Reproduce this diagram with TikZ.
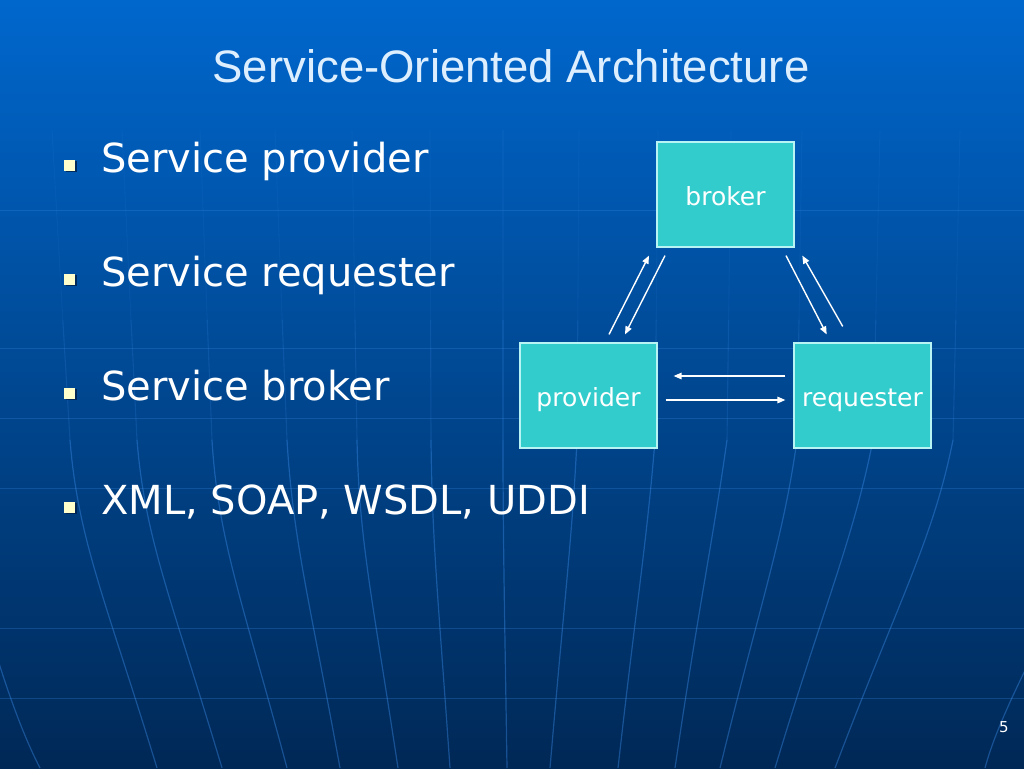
\documentclass[tikz,border=0pt]{standalone}
\usepackage{fontspec}
\setmainfont{DejaVu Sans}
\newfontfamily\titlefont{Liberation Sans}
\usetikzlibrary{arrows.meta,shadows}
\definecolor{bgtop}{HTML}{0067CD}
\definecolor{bgmid}{HTML}{0050A6}
\definecolor{bgbot}{HTML}{002856}
\definecolor{gridcol}{HTML}{3A8AE6}
\definecolor{boxfill}{HTML}{33CCCC}
\definecolor{boxline}{HTML}{B8F4F4}
\definecolor{titlecol}{HTML}{DDEFFF}
\definecolor{bulletcol}{HTML}{FFFFCC}
\definecolor{shadowcol}{HTML}{00204A}
\begin{document}
\begin{tikzpicture}[x=1pt,y=-1pt,
  box/.style={draw=boxline, line width=1.2pt, fill=boxfill, minimum width=137pt,
    minimum height=105pt, inner sep=0pt, text=white,
    font=\fontsize{25}{30}\selectfont, text height=22pt, text depth=1pt},
  bullettext/.style={anchor=base west, text=white, font=\fontsize{40}{48}\selectfont, inner sep=0pt},
  bulletmark/.style={fill=bulletcol, minimum size=11pt, inner sep=0pt, drop shadow={shadow xshift=1.5pt, shadow yshift=-1.5pt, fill=shadowcol, opacity=0.8}},
  flow/.style={draw=white, line width=1.4pt, -{Triangle[length=8pt,width=6.5pt]}},
  hline/.style={draw=gridcol, opacity=0.28, line width=1pt},
  meridiantop/.style={draw=gridcol, opacity=0.09, line width=1.1pt},
  meridianup/.style={draw=gridcol, opacity=0.2, line width=1.1pt},
  meridian/.style={draw=gridcol, opacity=0.42, line width=1.2pt}
]
\useasboundingbox (0,0) rectangle (1024,768);
\shade[top color=bgtop, middle color=bgmid, bottom color=bgbot] (0,0) rectangle (1024,768);

% faint globe grid
\foreach \yy in {210,348,418,488,628,698}
  \draw[hline] (0,\yy) -- (1024,\yy);
\foreach \xa/\xb/\xc/\xd in {503/503/503/507, 430/431/432/450, 352/357/359/398,
   275/287/293/340, 200/212/218/287, 122/137/145/222, 52/70/78/157,
   579/577/572/550, 658/655/647/618, 731/727/713/675, 802/797/783/720,
   880/873/853/775, 960/953/933/835}{
  \draw[meridiantop] (\xa,130) -- (0.4*\xa+0.6*\xb,320);
  \draw[meridianup] (0.4*\xa+0.6*\xb,320) -- (\xb,440);
  \draw[meridian] (\xb,440) .. controls (\xc,540) and (\xc+0.35*\xd-0.35*\xc,600) .. (\xd,768);
}
\draw[meridian] (-30,560) .. controls (-10,640) and (15,720) .. (40,768);
\draw[meridian] (1045,630) .. controls (1020,680) and (995,730) .. (985,768);

% title
\node[anchor=base, text=titlecol, font=\titlefont\fontsize{45.5}{54}\selectfont, inner sep=0pt]
  (title) at (511,82.5) {Service-Oriented Architecture};

% bullets
\node[bulletmark] (b1) at (69.5,165) {};
\node[bullettext] (t1) at (101,172) {Service provider};
\node[bulletmark] (b2) at (69.5,279) {};
\node[bullettext] (t2) at (101,286) {Service requester};
\node[bulletmark] (b3) at (69.5,393) {};
\node[bullettext] (t3) at (101,400) {Service broker};
\node[bulletmark] (b4) at (69.5,507) {};
\node[bullettext] (t4) at (101,514) {XML, SOAP, WSDL, UDDI};

% diagram
\node[box] (broker) at (725.5,194.5) {broker};
\node[box] (provider) at (588.5,395.5) {provider};
\node[box] (requester) at (862.5,395.5) {requester};

\draw[flow] ([shift={(20.5,-8)}]provider.north) -- ([shift={(-76.5,8)}]broker.south);
\draw[flow] ([shift={(-60.5,8)}]broker.south) -- ([shift={(36.5,-8)}]provider.north);
\draw[flow] ([shift={(60.5,8)}]broker.south) -- ([shift={(-35.8,-8)}]requester.north);
\draw[flow] ([shift={(-19.8,-16)}]requester.north) -- ([shift={(76.8,8)}]broker.south);
\draw[flow] ([shift={(-8,-19.5)}]requester.west) -- ([shift={(16,-19.5)}]provider.east);
\draw[flow] ([shift={(8,4.5)}]provider.east) -- ([shift={(-8,4.5)}]requester.west);

% page number
\node[anchor=base, text=white, font=\fontsize{15}{18}\selectfont, inner sep=0pt] (pagenum) at (1004,732) {5};
\end{tikzpicture}
\end{document}
